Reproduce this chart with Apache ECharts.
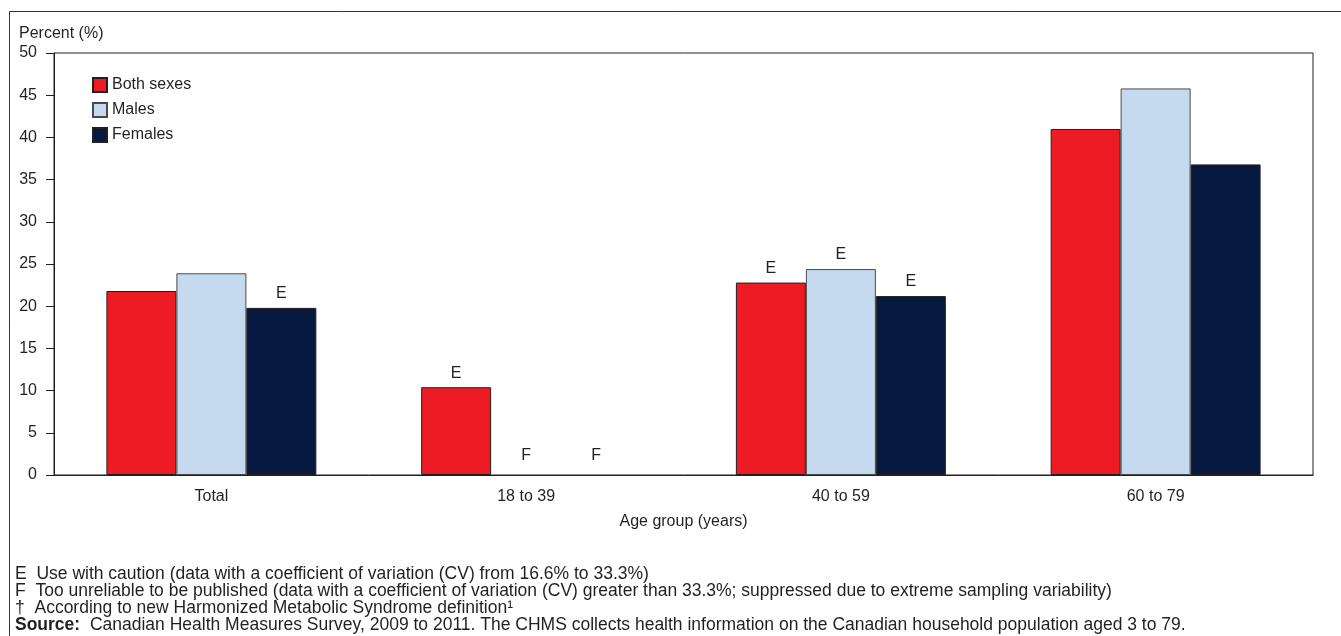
<!DOCTYPE html>
<html>
<head>
<meta charset="utf-8">
<script src="https://cdn.jsdelivr.net/npm/echarts@6/dist/echarts.min.js"></script>
<style>
html,body{margin:0;padding:0;background:#fff;}
#chart{width:1341px;height:636px;}
</style>
</head>
<body>
<div id="chart"></div>
<script>
const categories = ['Total', '18 to 39', '40 to 59', '60 to 79'];
const seriesNames = ['Both sexes', 'Males', 'Females'];
const bothSexes = [21.8, 10.4, 22.8, 41.0];
const males = [23.9, 0, 24.4, 45.8];
const females = [19.8, 0, 21.2, 36.8];
const bothFlags = ['', 'E', 'E', ''];
const maleFlags = ['', 'F', 'E', ''];
const femaleFlags = ['E', 'F', 'E', ''];
const yTicks = [0, 5, 10, 15, 20, 25, 30, 35, 40, 45, 50];
const footnotes = [
  'E  Use with caution (data with a coefficient of variation (CV) from 16.6% to 33.3%)',
  'F  Too unreliable to be published (data with a coefficient of variation (CV) greater than 33.3%; suppressed due to extreme sampling variability)',
  '†  According to new Harmonized Metabolic Syndrome definition¹'
];
const sourceLabel = 'Source:';
const sourceText = '  Canadian Health Measures Survey, 2009 to 2011. The CHMS collects health information on the Canadian household population aged 3 to 79.';

const FONT = '"Liberation Sans", Arial, sans-serif';
const TXT = '#231F20';
const colors = ['#ED1C24', '#C5D9EF', '#061A40'];
const borders = ['#231F20', '#4A4A4A', '#231F20'];

function build(values, flags) {
  return values.map((v, i) => {
    const f = flags[i];
    const item = { value: v };
    if (f) {
      item.label = { show: true, formatter: f, distance: f === 'F' ? 11 : 6 };
      if (f === 'F') item.itemStyle = { borderWidth: 0 };
    }
    return item;
  });
}
const allData = [build(bothSexes, bothFlags), build(males, maleFlags), build(females, femaleFlags)];

const chart = echarts.init(document.getElementById('chart'), null, { renderer: 'canvas' });

const FOOT_SIZE = 17.5;
const graphics = [
  { type: 'rect', shape: { x: 9.5, y: 11.5, width: 1400, height: 700 }, style: { fill: 'none', stroke: '#333', lineWidth: 1 }, silent: true }
];
const footY = [575, 592, 609];
footnotes.forEach((t, i) => {
  graphics.push({ type: 'text', left: 15, top: footY[i] - 10, style: { text: t, font: FOOT_SIZE + 'px ' + FONT, fill: TXT } });
});
graphics.push({
  type: 'text', left: 15, top: 626 - 10,
  style: {
    text: '{b|' + sourceLabel + '}{n|' + sourceText + '}',
    rich: {
      b: { fontFamily: FONT, fontSize: FOOT_SIZE, fontWeight: 'bold', fill: TXT },
      n: { fontFamily: FONT, fontSize: FOOT_SIZE, fill: TXT }
    }
  }
});

chart.setOption({
  animation: false,
  textStyle: { fontFamily: FONT },
  grid: { left: 54, right: 28, top: 53, bottom: 161, show: true, borderColor: '#231F20', borderWidth: 1, containLabel: false },
  legend: {
    orient: 'vertical', left: 87, top: 72, itemWidth: 14, itemHeight: 14, itemGap: 9,
    icon: 'rect', data: seriesNames,
    textStyle: { fontSize: 16, color: TXT, fontFamily: FONT }
  },
  xAxis: {
    type: 'category', data: categories,
    name: 'Age group (years)', nameLocation: 'middle', nameGap: 39,
    nameTextStyle: { fontSize: 16, color: TXT, fontFamily: FONT },
    axisLine: { lineStyle: { color: '#231F20', width: 1 } },
    axisTick: { show: false },
    axisLabel: { fontSize: 16, color: TXT, margin: 14, fontFamily: FONT }
  },
  yAxis: {
    type: 'value', min: yTicks[0], max: yTicks[yTicks.length - 1], interval: yTicks[1] - yTicks[0],
    name: 'Percent (%)', nameLocation: 'end', nameGap: 11,
    nameTextStyle: { fontSize: 16, color: TXT, fontFamily: FONT, align: 'left', padding: [0, 0, 0, -35] },
    axisLine: { show: true, lineStyle: { color: '#231F20', width: 1 } },
    axisTick: { show: true, inside: false, length: 8, lineStyle: { color: '#231F20' } },
    axisLabel: { fontSize: 16, color: TXT, margin: 17, fontFamily: FONT },
    splitLine: { show: false }
  },
  series: seriesNames.map((n, k) => ({
    name: n, type: 'bar', data: allData[k],
    barGap: '0%', barCategoryGap: '33.3%',
    itemStyle: { color: colors[k], borderColor: borders[k], borderWidth: 1 },
    label: { show: false, position: 'top', color: TXT, fontSize: 16, fontFamily: FONT }
  })),
  graphic: graphics
});
</script>
</body>
</html>
